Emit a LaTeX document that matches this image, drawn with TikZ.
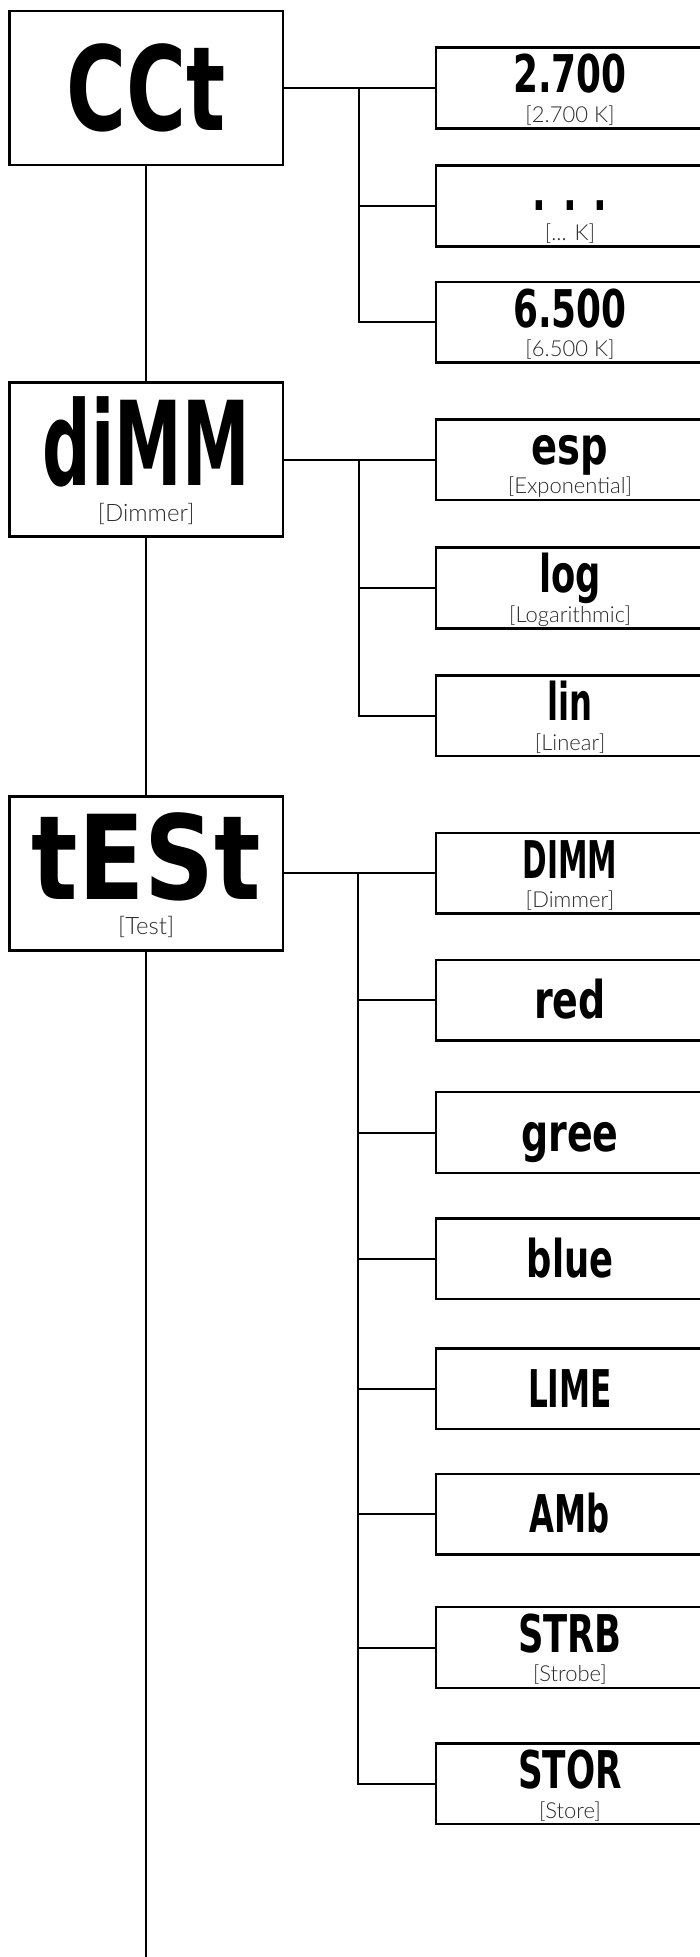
\documentclass[tikz,border=0pt]{standalone}
\usepackage{fontspec}
\usepackage{graphicx}
\newfontfamily\lcdfont{DejaVu Sans}
\newfontfamily\subfont{Lato Light}
\definecolor{subgray}{HTML}{2A2A2A}
\newcommand\lcdsq[2]{\scalebox{#1}[1]{#2}}
\tikzset{
  mainbox/.style={draw=black, line width=2.6pt, minimum width=273.7pt, minimum height=154pt, inner sep=0pt},
  subbox/.style={draw=black, line width=2.6pt, minimum width=268pt, minimum height=80.7pt, inner sep=0pt},
  link/.style={draw=black, line width=2pt},
  lcdbig/.style={inner sep=0pt, anchor=base, text depth=0pt, font=\lcdfont\bfseries\fontsize{117}{117}\selectfont},
  lcdsmall/.style={inner sep=0pt, anchor=base, text depth=0pt, font=\lcdfont\bfseries\fontsize{52}{52}\selectfont},
  subbig/.style={inner sep=0pt, anchor=base, text=subgray, font=\subfont\fontsize{24}{24}\selectfont},
  subsmall/.style={inner sep=0pt, anchor=base, text=subgray, font=\subfont\fontsize{22}{22}\selectfont},
}
\begin{document}
\begin{tikzpicture}[x=1pt,y=-1pt]
\clip (0,0) rectangle (700,1957);
% main boxes
\node[mainbox] (cct)  at (146.2,88)    {};
\node[mainbox] (dimm) at (146.2,459.7) {};
\node[mainbox] (test) at (146.2,873.4) {};
% child boxes of CCt
\node[subbox] (k1) at (570,88)    {};
\node[subbox] (k2) at (570,206)   {};
\node[subbox] (k3) at (570,322.3) {};
% child boxes of diMM
\node[subbox] (d1) at (570,459.7) {};
\node[subbox] (d2) at (570,588)   {};
\node[subbox] (d3) at (570,715.8) {};
% child boxes of tESt
\node[subbox] (t1) at (570,873.4)  {};
\node[subbox] (t2) at (570,1000.3) {};
\node[subbox] (t3) at (570,1132.5) {};
\node[subbox] (t4) at (570,1258.7) {};
\node[subbox] (t5) at (570,1388.8) {};
\node[subbox] (t6) at (570,1514.3) {};
\node[subbox] (t7) at (570,1647.5) {};
\node[subbox] (t8) at (570,1783.8) {};
% spine
\coordinate (spineend) at (146.2,1962);
\draw[link] (cct.south) -- (dimm.north);
\draw[link] (dimm.south) -- (test.north);
\draw[link] (test.south) -- (spineend);
% branches
\coordinate (ja) at (359,88);
\draw[link] (cct.east) -- (k1.west);
\draw[link] (ja) |- (k2.west);
\draw[link] (ja) |- (k3.west);
\coordinate (jb) at (359,459.7);
\draw[link] (dimm.east) -- (d1.west);
\draw[link] (jb) |- (d2.west);
\draw[link] (jb) |- (d3.west);
\coordinate (jc) at (358,873.4);
\draw[link] (test.east) -- (t1.west);
\foreach \n in {t2,t3,t4,t5,t6,t7,t8} { \draw[link] (jc) |- (\n.west); }
% main texts
\node[lcdbig] (cctl)  at ([yshift=-42pt]cct.center)  {\lcdsq{0.70}{CCt}};
\node[lcdbig] (dimml) at ([yshift=-26pt]dimm.center) {\lcdsq{0.58}{diMM}};
\node[subbig] (dimms) at ([yshift=-61.5pt]dimm.center) {[Dimmer]};
\node[lcdbig] (testl) at ([yshift=-26pt]test.center) {\lcdsq{0.83}{tESt}};
\node[subbig] (tests) at ([yshift=-61.5pt]test.center) {[Test]};
% CCt children texts
\node[lcdsmall] (k1l) at ([yshift=-4.7pt]k1.center) {\lcdsq{0.69}{2.700}};
\node[subsmall] (k1s) at ([yshift=-34.2pt]k1.center) {[2.700 K]};
\node[lcdsmall] (k2l) at ([yshift=-4.7pt]k2.center) {\lcdsq{0.69}{. . .}};
\node[subsmall] (k2s) at ([yshift=-34.2pt]k2.center) {[... K]};
\node[lcdsmall] (k3l) at ([yshift=-4.7pt]k3.center) {\lcdsq{0.69}{6.500}};
\node[subsmall] (k3s) at ([yshift=-34.2pt]k3.center) {[6.500 K]};
% diMM children texts
\node[lcdsmall] (d1l) at ([yshift=-4.7pt]d1.center) {\lcdsq{0.74}{esp}};
\node[subsmall] (d1s) at ([yshift=-34.2pt]d1.center) {[Exponential]};
\node[lcdsmall] (d2l) at ([yshift=-4.7pt]d2.center) {\lcdsq{0.68}{log}};
\node[subsmall] (d2s) at ([yshift=-34.2pt]d2.center) {[Logarithmic]};
\node[lcdsmall] (d3l) at ([yshift=-4.7pt]d3.center) {\lcdsq{0.62}{lin}};
\node[subsmall] (d3s) at ([yshift=-34.2pt]d3.center) {[Linear]};
% tESt children texts
\node[lcdsmall] (t1l) at ([yshift=-4.7pt]t1.center) {\lcdsq{0.57}{DIMM}};
\node[subsmall] (t1s) at ([yshift=-34.2pt]t1.center) {[Dimmer]};
\node[lcdsmall] (t2l) at ([yshift=-18.5pt]t2.center) {\lcdsq{0.73}{red}};
\node[lcdsmall] (t3l) at ([yshift=-18.5pt]t3.center) {\lcdsq{0.73}{gree}};
\node[lcdsmall] (t4l) at ([yshift=-18.5pt]t4.center) {\lcdsq{0.68}{blue}};
\node[lcdsmall] (t5l) at ([yshift=-18.5pt]t5.center) {\lcdsq{0.60}{LIME}};
\node[lcdsmall] (t6l) at ([yshift=-18.5pt]t6.center) {\lcdsq{0.62}{AMb}};
\node[lcdsmall] (t7l) at ([yshift=-4.7pt]t7.center) {\lcdsq{0.68}{STRB}};
\node[subsmall] (t7s) at ([yshift=-34.2pt]t7.center) {[Strobe]};
\node[lcdsmall] (t8l) at ([yshift=-4.7pt]t8.center) {\lcdsq{0.66}{STOR}};
\node[subsmall] (t8s) at ([yshift=-34.2pt]t8.center) {[Store]};
\end{tikzpicture}
\end{document}
